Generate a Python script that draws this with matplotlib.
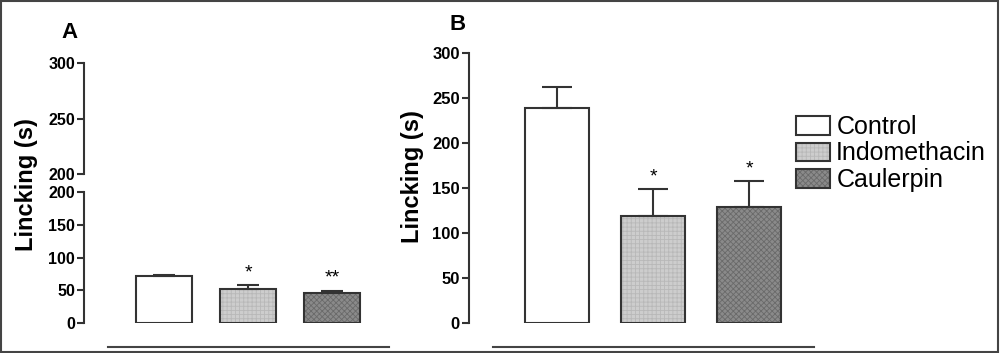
import matplotlib
matplotlib.use("Agg")
import matplotlib.pyplot as plt
from matplotlib.patches import Rectangle, Patch
from matplotlib.lines import Line2D

plt.rcParams['font.family'] = ['Liberation Sans', 'DejaVu Sans']
plt.rcParams['hatch.linewidth'] = 0.6

# data
groups = ['Control', 'Indomethacin', 'Caulerpin']
a_means = [71, 52, 46]
a_err = [2, 6.5, 3.5]
a_stars = ['', '*', '**']
b_means = [239, 119, 129]
b_err = [23, 30, 28.5]
b_stars = ['', '*', '*']
a_low_ticks = [0, 50, 100, 150, 200]
a_up_ticks = [200, 250, 300]
b_ticks = [0, 50, 100, 150, 200, 250, 300]

# look of each group: face, hatch, hatch colour
faces = ['white', '#cdcdcd', '#8a8a8a']
hatches = [None, '++++', 'xxxxxx']
hcols = ['white', '#b8b8b8', '#6a6a6a']
edge = '#333333'

fig = plt.figure(figsize=(10, 3.53), dpi=100)
H = 353.0
W = 1000.0

def px_axes(left, right, top, bottom):
    return fig.add_axes([left / W, (H - bottom) / H, (right - left) / W, (bottom - top) / H])

def style(ax, ticks, fs):
    for s in ['top', 'right', 'bottom']:
        ax.spines[s].set_visible(False)
    ax.spines['left'].set_linewidth(1.5)
    ax.spines['left'].set_color(edge)
    ax.set_yticks(ticks)
    ax.set_xticks([])
    ax.tick_params(axis='y', length=5, width=1.5, color=edge, pad=1.5, labelsize=fs)
    for t in ax.get_yticklabels():
        t.set_fontweight('bold')

def draw_bars(ax, means, errs, stars, cap):
    x = list(range(len(means)))
    for i in x:
        ax.bar(i, means[i], 0.667, color=faces[i], edgecolor=hcols[i], hatch=hatches[i], linewidth=0, zorder=1)
        ax.bar(i, means[i], 0.667, fill=False, edgecolor=edge, linewidth=1.5, zorder=2)
    ax.errorbar(x, means, yerr=[[0] * len(means), errs], fmt='none', ecolor=edge,
                elinewidth=1.5, capsize=cap, capthick=1.5, zorder=3)
    for i in x:
        if stars[i]:
            ax.annotate(stars[i], (i, means[i] + errs[i]), xytext=(0, 5.5), textcoords='offset points',
                        ha='center', va='baseline', fontsize=14)

# panel A - broken axis
axA_up = px_axes(84, 390, 63, 174)
axA_lo = px_axes(84, 390, 192, 323)
for ax in [axA_up, axA_lo]:
    draw_bars(ax, a_means, a_err, a_stars, 8)
    ax.set_xlim(-0.952, 2.69)
axA_up.set_ylim(200, 300)
axA_lo.set_ylim(0, 200)
for t in axA_up.texts:
    t.set_visible(False)
style(axA_up, a_up_ticks, 11.5)
style(axA_lo, a_low_ticks, 11.5)
fig.text(27 / W, 1 - 185 / H, 'Lincking (s)', rotation=90, ha='center', va='center',
         fontsize=17, fontweight='bold')
fig.text(69 / W, 1 - 32 / H, 'A', ha='center', va='center', fontsize=16, fontweight='bold')

# panel B
axB = px_axes(469, 800, 52.7, 323)
draw_bars(axB, b_means, b_err, b_stars, 10.5)
axB.set_xlim(-0.917, 2.531)
axB.set_ylim(0, 300)
style(axB, b_ticks, 12)
fig.text(413 / W, 1 - 177 / H, 'Lincking (s)', rotation=90, ha='center', va='center',
         fontsize=17, fontweight='bold')
fig.text(458 / W, 1 - 25 / H, 'B', ha='center', va='center', fontsize=16, fontweight='bold')

# legend
handles = []
for i in range(3):
    handles.append((Patch(facecolor=faces[i], edgecolor=hcols[i], hatch=hatches[i], linewidth=0),
                    Patch(fill=False, edgecolor=edge, linewidth=1.5)))
fig.legend(handles, groups, loc='upper left', bbox_to_anchor=(796 / W, 1 - 115 / H),
           frameon=False, fontsize=18, handlelength=1.36, handleheight=0.76,
           handletextpad=0.25, labelspacing=0.1, borderpad=0, borderaxespad=0)

# baselines under each panel
fig.add_artist(Line2D([108 / W, 389 / W], [1 - 347 / H] * 2, color='#444444', lw=1.5))
fig.add_artist(Line2D([493 / W, 814 / W], [1 - 347 / H] * 2, color='#444444', lw=1.5))

# frame round the figure
fig.add_artist(Rectangle((0.001, 0.002), 0.997, 0.996, fill=False, edgecolor='#444444',
                         lw=1.5, transform=fig.transFigure))

fig.savefig('out.png', dpi=100)
